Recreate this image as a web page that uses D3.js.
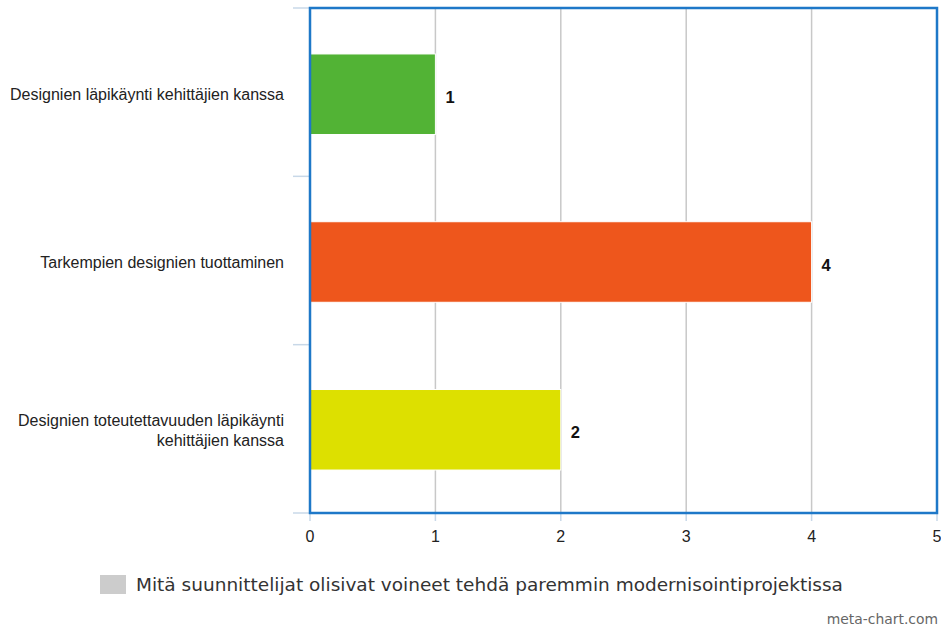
<!DOCTYPE html>
<html>
<head>
<meta charset="utf-8">
<script src="https://cdn.jsdelivr.net/npm/d3@7"></script>
<style>
  html, body { margin: 0; padding: 0; background: #fff; }
  svg { display: block; }
</style>
</head>
<body>
<svg id="chart" width="941" height="627"></svg>
<script>
// Survey answers: one bar per improvement suggestion
const categories = [
  ["Designien läpikäynti kehittäjien kanssa"],
  ["Tarkempien designien tuottaminen"],
  ["Designien toteutettavuuden läpikäynti", "kehittäjien kanssa"]
];
const values = [1, 4, 2];
const barColors = ["#52b335", "#ee561c", "#dde000"];
const xTicks = [0, 1, 2, 3, 4, 5];
const seriesName = "Mitä suunnittelijat olisivat voineet tehdä paremmin modernisointiprojektissa";
const credit = "meta-chart.com";

const svg = d3.select("#chart");
const plot = { left: 310, right: 937, top: 8, bottom: 513 };

const x = d3.scaleLinear().domain([0, 5]).range([plot.left, plot.right]);
const y = d3.scaleBand()
  .domain(d3.range(categories.length))
  .range([plot.top + 1.5, plot.bottom + 1.5])
  .paddingInner(0.52)
  .paddingOuter(0.265);

// vertical gridlines
svg.append("g")
  .selectAll("line")
  .data(xTicks.slice(1, -1))
  .join("line")
  .attr("x1", d => x(d)).attr("x2", d => x(d))
  .attr("y1", plot.top).attr("y2", plot.bottom)
  .attr("stroke", "#c8c8c8").attr("stroke-width", 1.5);

// category tick marks on the left edge
const bandEdges = d3.range(categories.length + 1).map(i => plot.top + i * (plot.bottom - plot.top) / categories.length);
svg.append("g")
  .selectAll("line")
  .data(bandEdges)
  .join("line")
  .attr("x1", 293).attr("x2", plot.left)
  .attr("y1", d => d).attr("y2", d => d)
  .attr("stroke", "#c8d8e8").attr("stroke-width", 1.5);

// bottom axis ticks
svg.append("g")
  .selectAll("line")
  .data(xTicks)
  .join("line")
  .attr("x1", d => x(d)).attr("x2", d => x(d))
  .attr("y1", plot.bottom).attr("y2", plot.bottom + 8)
  .attr("stroke", "#c8d8e8").attr("stroke-width", 1.5);

// bars
svg.append("g")
  .selectAll("rect")
  .data(values)
  .join("rect")
  .attr("x", x(0))
  .attr("y", (d, i) => y(i))
  .attr("width", d => x(d) - x(0))
  .attr("height", y.bandwidth())
  .attr("fill", (d, i) => barColors[i])
  .attr("stroke", "#fff").attr("stroke-width", 1);

// value labels
svg.append("g")
  .selectAll("text")
  .data(values)
  .join("text")
  .attr("x", d => x(d) + 10)
  .attr("y", (d, i) => y(i) + y.bandwidth() / 2 + 8.5)
  .attr("font-family", "Liberation Sans, Arial, sans-serif")
  .attr("font-size", 16.5).attr("font-weight", "bold")
  .attr("fill", "#111")
  .text(d => d);

// plot frame
svg.append("rect")
  .attr("x", plot.left).attr("y", plot.top)
  .attr("width", plot.right - plot.left).attr("height", plot.bottom - plot.top)
  .attr("fill", "none").attr("stroke", "#1e78c8").attr("stroke-width", 2.5);

// category labels
const catG = svg.append("g")
  .selectAll("text")
  .data(categories)
  .join("text")
  .attr("text-anchor", "end")
  .attr("font-family", "Liberation Sans, Arial, sans-serif")
  .attr("font-size", 16)
  .attr("fill", "#222")
  .attr("transform", (d, i) => `translate(284,${y(i) + y.bandwidth() / 2 + 6 - (d.length - 1) * 10})`);
catG.selectAll("tspan")
  .data(d => d)
  .join("tspan")
  .attr("x", 0)
  .attr("dy", (d, i) => i === 0 ? 0 : 20)
  .text(d => d);

// x tick labels
svg.append("g")
  .selectAll("text")
  .data(xTicks)
  .join("text")
  .attr("x", d => x(d))
  .attr("y", 542)
  .attr("text-anchor", "middle")
  .attr("font-family", "Liberation Sans, Arial, sans-serif")
  .attr("font-size", 16)
  .attr("fill", "#222")
  .text(d => d);

// legend
svg.append("rect")
  .attr("x", 100).attr("y", 575).attr("width", 26).attr("height", 19)
  .attr("fill", "#cccccc");
svg.append("text")
  .attr("x", 136).attr("y", 591)
  .attr("font-family", "DejaVu Sans, Verdana, sans-serif")
  .attr("font-size", 18.5)
  .attr("fill", "#333")
  .text(seriesName);

// credit line
svg.append("text")
  .attr("x", 938).attr("y", 624)
  .attr("text-anchor", "end")
  .attr("font-family", "DejaVu Sans, Verdana, sans-serif")
  .attr("font-size", 13.9)
  .attr("fill", "#666")
  .text(credit);
</script>
</body>
</html>
